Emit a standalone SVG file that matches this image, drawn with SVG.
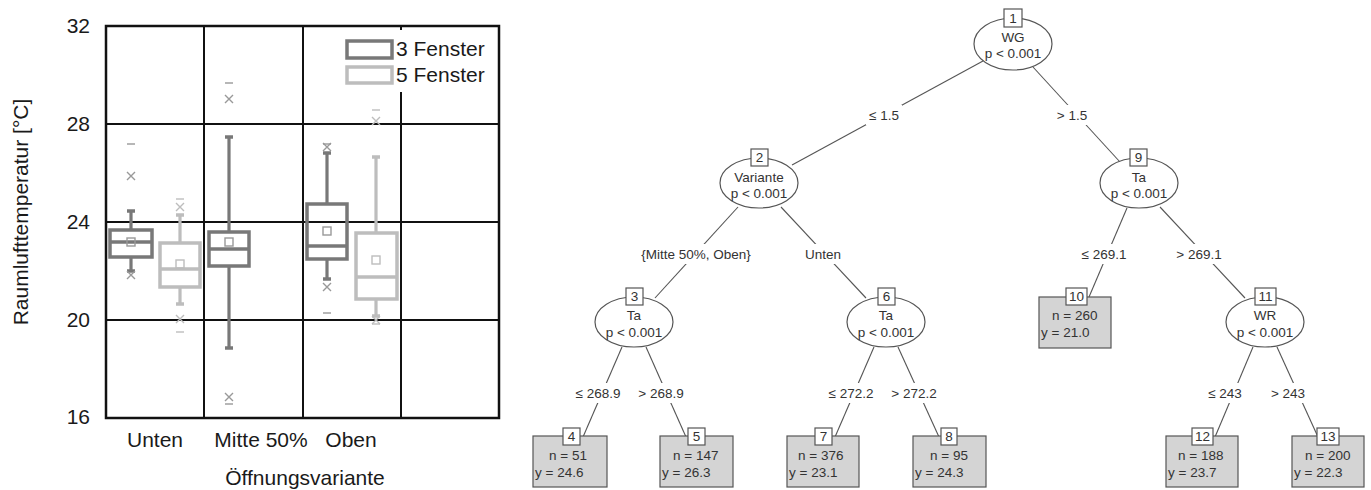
<svg xmlns="http://www.w3.org/2000/svg" width="1371" height="490" viewBox="0 0 1371 490">
<style>
text{font-family:"Liberation Sans",Arial,sans-serif}
.ax{font-size:21px;fill:#1a1a1a}
.grid{stroke:#111;stroke-width:2;fill:none}
.d{stroke:#787878}
.l{stroke:#bdbdbd}
.box{fill:none;stroke-width:3.5}
.wh{stroke-width:3.2;fill:none}
.cap{stroke-width:3.5}
.mk{stroke-width:1.4;fill:none}
.mean{stroke-width:1.4;fill:none}
.tt{font-size:13.5px;fill:#333}
.c{text-anchor:middle}
.el{fill:#fff;stroke:#555;stroke-width:1.2}
.leaf{fill:#d4d4d4;stroke:#555;stroke-width:1.2}
.nb{fill:#fff;stroke:#555;stroke-width:1.2}
.edge{stroke:#555;stroke-width:1.1;fill:none}
.bg{fill:#fff;stroke:none}
.lab{font-size:13.5px;fill:#333;text-anchor:middle}
</style>
<g id="boxplot">
  <line class="grid" x1="106" y1="124" x2="499" y2="124"/>
  <line class="grid" x1="106" y1="222" x2="499" y2="222"/>
  <line class="grid" x1="106" y1="320" x2="499" y2="320"/>
  <line class="grid" x1="204" y1="26" x2="204" y2="418"/>
  <line class="grid" x1="303" y1="26" x2="303" y2="418"/>
  <line class="grid" x1="401" y1="26" x2="401" y2="418"/>
  <rect x="106" y="26" width="393" height="392" fill="none" stroke="#111" stroke-width="2.5"/>
  <rect x="342" y="30" width="155" height="62" fill="#fff"/>
  <rect class="box d" x="347" y="41" width="45" height="17"/>
  <rect class="box l" x="347" y="67" width="45" height="16"/>
  <text class="ax" x="396" y="56">3 Fenster</text>
  <text class="ax" x="396" y="82">5 Fenster</text>
  <text class="ax" x="90" y="33" text-anchor="end">32</text>
  <text class="ax" x="90" y="131" text-anchor="end">28</text>
  <text class="ax" x="90" y="229" text-anchor="end">24</text>
  <text class="ax" x="90" y="327" text-anchor="end">20</text>
  <text class="ax" x="90" y="424" text-anchor="end">16</text>
  <text class="ax" x="155" y="447" text-anchor="middle">Unten</text>
  <text class="ax" x="261" y="447" text-anchor="middle">Mitte 50%</text>
  <text class="ax" x="351" y="447" text-anchor="middle">Oben</text>
  <text class="ax" x="305" y="485" text-anchor="middle">Öffnungsvariante</text>
  <text class="ax" transform="translate(28,212) rotate(-90)" text-anchor="middle">Raumlufttemperatur [°C]</text>

  <g id="b-unten-3" class="d">
    <line class="wh" x1="131" y1="211" x2="131" y2="230"/>
    <line class="wh" x1="131" y1="257" x2="131" y2="271"/>
    <line class="cap" x1="127" y1="211" x2="135" y2="211"/>
    <line class="cap" x1="127" y1="271" x2="135" y2="271"/>
    <rect class="box" x="110" y="230" width="42" height="27"/>
    <line class="box" x1="110" y1="242" x2="152" y2="242"/>
    <rect class="mean" x="127" y="238" width="8" height="8" stroke="#999"/>
    <path class="mk" d="M127 172l8 8M135 172l-8 8M127 271l8 8M135 271l-8 8" stroke="#999"/>
    <line class="mk" x1="127" y1="144" x2="135" y2="144" stroke="#999"/>
  </g>
  <g id="b-unten-5" class="l">
    <line class="wh" x1="180" y1="215" x2="180" y2="243"/>
    <line class="wh" x1="180" y1="287" x2="180" y2="304"/>
    <line class="cap" x1="176" y1="215" x2="184" y2="215"/>
    <line class="cap" x1="176" y1="304" x2="184" y2="304"/>
    <rect class="box" x="160" y="243" width="40" height="44"/>
    <line class="box" x1="160" y1="269" x2="200" y2="269"/>
    <rect class="mean" x="176" y="260" width="8" height="8"/>
    <path class="mk" d="M176 203l8 8M184 203l-8 8M176 315l8 8M184 315l-8 8"/>
    <line class="mk" x1="176" y1="199" x2="184" y2="199"/>
    <line class="mk" x1="176" y1="332" x2="184" y2="332"/>
  </g>
  <g id="b-mitte-3" class="d">
    <line class="wh" x1="229" y1="137" x2="229" y2="232"/>
    <line class="wh" x1="229" y1="266" x2="229" y2="348"/>
    <line class="cap" x1="225" y1="137" x2="233" y2="137"/>
    <line class="cap" x1="225" y1="348" x2="233" y2="348"/>
    <rect class="box" x="209" y="232" width="40" height="34"/>
    <line class="box" x1="209" y1="249" x2="249" y2="249"/>
    <rect class="mean" x="225" y="238" width="8" height="8" stroke="#999"/>
    <path class="mk" d="M225 95l8 8M233 95l-8 8M225 393l8 8M233 393l-8 8" stroke="#999"/>
    <line class="mk" x1="225" y1="83" x2="233" y2="83" stroke="#999"/>
    <line class="mk" x1="225" y1="404" x2="233" y2="404" stroke="#999"/>
  </g>
  <g id="b-oben-3" class="d">
    <line class="wh" x1="327" y1="153" x2="327" y2="204"/>
    <line class="wh" x1="327" y1="259" x2="327" y2="279"/>
    <line class="cap" x1="323" y1="153" x2="331" y2="153"/>
    <line class="cap" x1="323" y1="279" x2="331" y2="279"/>
    <rect class="box" x="307" y="204" width="40" height="55"/>
    <line class="box" x1="307" y1="246" x2="347" y2="246"/>
    <rect class="mean" x="323" y="227" width="8" height="8" stroke="#999"/>
    <path class="mk" d="M323 143l8 8M331 143l-8 8M323 283l8 8M331 283l-8 8" stroke="#999"/>
    <line class="mk" x1="323" y1="144" x2="331" y2="144" stroke="#999"/>
    <line class="mk" x1="323" y1="313" x2="331" y2="313" stroke="#999"/>
  </g>
  <g id="b-oben-5" class="l">
    <line class="wh" x1="376" y1="157" x2="376" y2="233"/>
    <line class="wh" x1="376" y1="299" x2="376" y2="316"/>
    <line class="cap" x1="372" y1="157" x2="380" y2="157"/>
    <line class="cap" x1="372" y1="316" x2="380" y2="316"/>
    <rect class="box" x="356" y="233" width="41" height="66"/>
    <line class="box" x1="356" y1="277" x2="397" y2="277"/>
    <rect class="mean" x="372" y="256" width="8" height="8"/>
    <path class="mk" d="M372 117l8 8M380 117l-8 8M372 316l8 8M380 316l-8 8"/>
    <line class="mk" x1="372" y1="110" x2="380" y2="110"/>
    <line class="mk" x1="372" y1="324" x2="380" y2="324"/>
  </g>
</g>

<g id="connectors">
  <line class="edge" x1="983" y1="61" x2="792" y2="165"/>
  <line class="edge" x1="1033" y1="67" x2="1120" y2="162"/>
  <line class="edge" x1="738" y1="207" x2="655" y2="298"/>
  <line class="edge" x1="781" y1="207" x2="866" y2="298"/>
  <line class="edge" x1="1127" y1="208" x2="1089" y2="297"/>
  <line class="edge" x1="1160" y1="207" x2="1245" y2="298"/>
  <line class="edge" x1="622" y1="347" x2="583" y2="437"/>
  <line class="edge" x1="646" y1="347" x2="686" y2="437"/>
  <line class="edge" x1="874" y1="347" x2="835" y2="437"/>
  <line class="edge" x1="898" y1="347" x2="939" y2="437"/>
  <line class="edge" x1="1253" y1="347" x2="1215" y2="437"/>
  <line class="edge" x1="1277" y1="347" x2="1318" y2="437"/>
  <rect class="bg" x="866" y="105" width="36" height="20"/>
  <rect class="bg" x="1055" y="105" width="35" height="20"/>
  <rect class="bg" x="638" y="244" width="116" height="20"/>
  <rect class="bg" x="802" y="244" width="42" height="20"/>
  <rect class="bg" x="1079" y="244" width="50" height="20"/>
  <rect class="bg" x="1174" y="244" width="50" height="20"/>
  <rect class="bg" x="573" y="383" width="50" height="20"/>
  <rect class="bg" x="636" y="383" width="50" height="20"/>
  <rect class="bg" x="826" y="383" width="50" height="20"/>
  <rect class="bg" x="889" y="383" width="50" height="20"/>
  <rect class="bg" x="1205" y="383" width="40" height="20"/>
  <rect class="bg" x="1268" y="383" width="40" height="20"/>
  <text class="lab" x="884" y="120">≤ 1.5</text>
  <text class="lab" x="1072" y="120">&gt; 1.5</text>
  <text class="lab" x="696" y="259">{Mitte 50%, Oben}</text>
  <text class="lab" x="823" y="259">Unten</text>
  <text class="lab" x="1104" y="259">≤ 269.1</text>
  <text class="lab" x="1199" y="259">&gt; 269.1</text>
  <text class="lab" x="598" y="398">≤ 268.9</text>
  <text class="lab" x="661" y="398">&gt; 268.9</text>
  <text class="lab" x="851" y="398">≤ 272.2</text>
  <text class="lab" x="914" y="398">&gt; 272.2</text>
  <text class="lab" x="1225" y="398">≤ 243</text>
  <text class="lab" x="1288" y="398">&gt; 243</text>
</g>

<g id="node1">
  <ellipse class="el" cx="1013" cy="44" rx="39" ry="26"/>
  <rect class="nb" x="1004" y="9" width="18" height="18"/>
  <text class="tt c" x="1013" y="23">1</text>
  <text class="tt c" x="1013" y="42">WG</text>
  <text class="tt c" x="1013" y="58">p &lt; 0.001</text>
</g>
<g id="node2">
  <ellipse class="el" cx="759" cy="183" rx="39" ry="25"/>
  <rect class="nb" x="751" y="149" width="17" height="17"/>
  <text class="tt c" x="759.5" y="162">2</text>
  <text class="tt c" x="759" y="182">Variante</text>
  <text class="tt c" x="759" y="198">p &lt; 0.001</text>
</g>
<g id="node9">
  <ellipse class="el" cx="1139" cy="183" rx="39" ry="25"/>
  <rect class="nb" x="1130" y="149" width="17" height="17"/>
  <text class="tt c" x="1138.5" y="162">9</text>
  <text class="tt c" x="1139" y="182">Ta</text>
  <text class="tt c" x="1139" y="198">p &lt; 0.001</text>
</g>
<g id="node3">
  <ellipse class="el" cx="634" cy="322" rx="39" ry="25"/>
  <rect class="nb" x="626" y="288" width="17" height="17"/>
  <text class="tt c" x="634.5" y="301">3</text>
  <text class="tt c" x="634" y="320">Ta</text>
  <text class="tt c" x="634" y="337">p &lt; 0.001</text>
</g>
<g id="node6">
  <ellipse class="el" cx="886" cy="322" rx="39" ry="25"/>
  <rect class="nb" x="878" y="288" width="17" height="17"/>
  <text class="tt c" x="886.5" y="301">6</text>
  <text class="tt c" x="886" y="320">Ta</text>
  <text class="tt c" x="886" y="337">p &lt; 0.001</text>
</g>
<g id="node10">
  <rect class="leaf" x="1039" y="297" width="72" height="51"/>
  <rect class="nb" x="1066" y="288" width="21" height="17"/>
  <text class="tt c" x="1076.5" y="301">10</text>
  <text class="tt" x="1052" y="320">n = 260</text>
  <text class="tt" x="1041" y="337">y = 21.0</text>
</g>
<g id="node11">
  <ellipse class="el" cx="1265" cy="322" rx="39" ry="25"/>
  <rect class="nb" x="1255" y="288" width="21" height="17"/>
  <text class="tt c" x="1265.5" y="301">11</text>
  <text class="tt c" x="1265" y="320">WR</text>
  <text class="tt c" x="1265" y="337">p &lt; 0.001</text>
</g>
<g id="node4">
  <rect class="leaf" x="533" y="436" width="74" height="51"/>
  <rect class="nb" x="563" y="428" width="17" height="17"/>
  <text class="tt c" x="571.5" y="441">4</text>
  <text class="tt" x="549" y="460">n = 51</text>
  <text class="tt" x="535" y="477">y = 24.6</text>
</g>
<g id="node5">
  <rect class="leaf" x="660" y="436" width="73" height="51"/>
  <rect class="nb" x="688" y="428" width="17" height="17"/>
  <text class="tt c" x="696.5" y="441">5</text>
  <text class="tt" x="673" y="460">n = 147</text>
  <text class="tt" x="662" y="477">y = 26.3</text>
</g>
<g id="node7">
  <rect class="leaf" x="787" y="436" width="72" height="51"/>
  <rect class="nb" x="815" y="428" width="17" height="17"/>
  <text class="tt c" x="823.5" y="441">7</text>
  <text class="tt" x="798" y="460">n = 376</text>
  <text class="tt" x="789" y="477">y = 23.1</text>
</g>
<g id="node8">
  <rect class="leaf" x="913" y="436" width="73" height="51"/>
  <rect class="nb" x="941" y="428" width="16" height="17"/>
  <text class="tt c" x="949" y="441">8</text>
  <text class="tt" x="930" y="460">n = 95</text>
  <text class="tt" x="915" y="477">y = 24.3</text>
</g>
<g id="node12">
  <rect class="leaf" x="1166" y="436" width="72" height="51"/>
  <rect class="nb" x="1192" y="428" width="21" height="17"/>
  <text class="tt c" x="1202.5" y="441">12</text>
  <text class="tt" x="1178" y="460">n = 188</text>
  <text class="tt" x="1168" y="477">y = 23.7</text>
</g>
<g id="node13">
  <rect class="leaf" x="1292" y="436" width="72" height="51"/>
  <rect class="nb" x="1317" y="428" width="22" height="17"/>
  <text class="tt c" x="1328" y="441">13</text>
  <text class="tt" x="1305" y="460">n = 200</text>
  <text class="tt" x="1294" y="477">y = 22.3</text>
</g>
</svg>
